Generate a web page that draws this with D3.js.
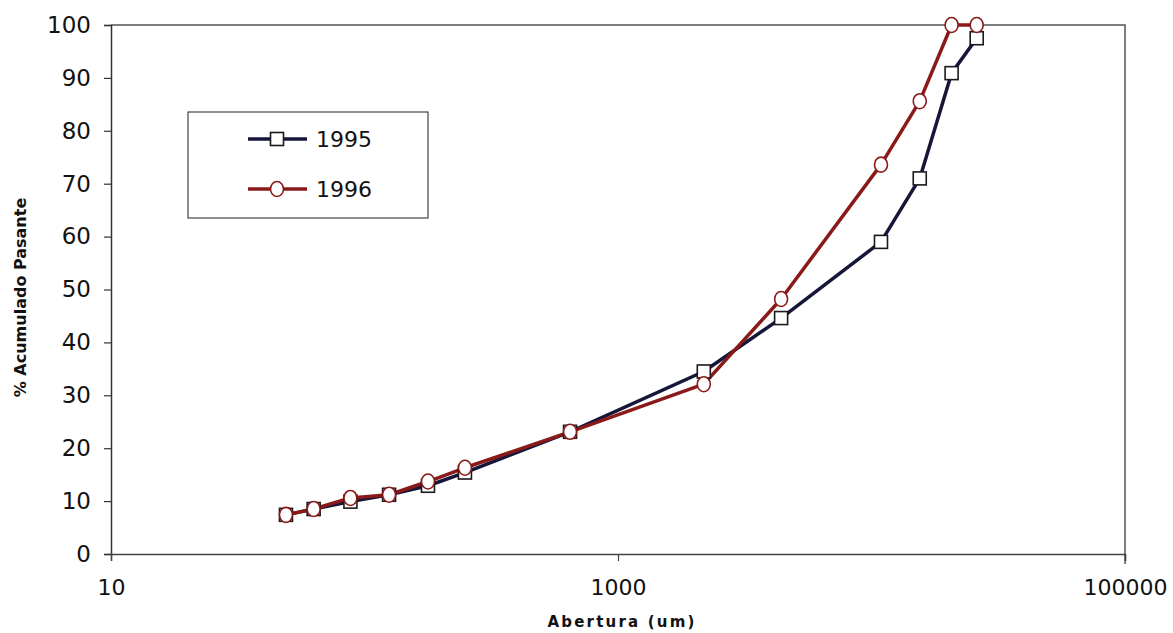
<!DOCTYPE html>
<html>
<head>
<meta charset="utf-8">
<script src="https://cdn.jsdelivr.net/npm/d3@7"></script>
<style>
  html, body { margin: 0; padding: 0; background: #fff; }
  svg { display: block; }
</style>
</head>
<body>
<svg id="chart" width="1173" height="633"></svg>
<script>
// Sieve openings (um) and cumulative percent passing per year
const aberturas = [49, 63, 88, 125, 178, 249, 647, 2180, 4400, 10900, 15500, 20700, 26000];
const pasante1995 = [7.4, 8.5, 9.9, 11.2, 12.9, 15.4, 23.1, 34.5, 44.6, 59.0, 71.0, 90.9, 97.5];
const pasante1996 = [7.4, 8.5, 10.6, 11.2, 13.7, 16.3, 23.1, 32.1, 48.2, 73.6, 85.6, 100, 100];
const seriesNames = ["1995", "1996"];
const xTickValues = [10, 1000, 100000];
const yTickValues = [0, 10, 20, 30, 40, 50, 60, 70, 80, 90, 100];

const svg = d3.select("#chart");
const margin = { left: 111, right: 1125, top: 25, bottom: 554 };

const x = d3.scaleLog().domain([10, 100000]).range([margin.left, margin.right]);
const y = d3.scaleLinear().domain([0, 100]).range([margin.bottom, margin.top]);

const tickFont = "'DejaVu Sans', Verdana, sans-serif";

// Plot frame (top and right edges)
svg.append("path")
  .attr("d", `M${margin.left},${margin.top}H${margin.right}V${margin.bottom + 10}`)
  .attr("fill", "none").attr("stroke", "#555").attr("stroke-width", 1.5);

// Y axis
const yAxis = svg.append("g")
  .attr("transform", `translate(${margin.left},0)`)
  .call(d3.axisLeft(y).tickValues(yTickValues).tickSize(7).tickPadding(13));
yAxis.select(".domain").attr("stroke", "#333").attr("stroke-width", 1.5);
yAxis.selectAll(".tick line").attr("stroke", "#333").attr("stroke-width", 1.2);
yAxis.selectAll("text")
  .attr("font-family", tickFont).attr("font-size", 23).attr("fill", "#111");

// X axis (log, labelled every two decades)
const xAxis = svg.append("g")
  .attr("transform", `translate(0,${margin.bottom})`)
  .call(d3.axisBottom(x).tickValues(xTickValues).tickFormat(d3.format("d")).tickSize(7).tickPadding(18));
xAxis.select(".domain").attr("stroke", "#444").attr("stroke-width", 1.5);
xAxis.selectAll(".tick line").attr("stroke", "#444").attr("stroke-width", 1.2);
xAxis.selectAll("text")
  .attr("font-family", tickFont).attr("font-size", 22).attr("fill", "#111");

// Axis titles
svg.append("text")
  .attr("x", (margin.left + margin.right) / 2 + 4).attr("y", 627)
  .attr("text-anchor", "middle")
  .attr("font-family", tickFont)
  .attr("font-weight", "bold").attr("font-size", 15).attr("letter-spacing", 2.2)
  .attr("fill", "#111")
  .text("Abertura (um)");

svg.append("text")
  .attr("transform", `translate(26,${(margin.top + margin.bottom) / 2 + 8}) rotate(-90)`)
  .attr("text-anchor", "middle")
  .attr("font-family", tickFont)
  .attr("font-weight", "bold").attr("font-size", 16)
  .attr("fill", "#111")
  .text("% Acumulado Pasante");

const colors = { "1995": "#15163a", "1996": "#8a1a1a" };
const data = {
  "1995": aberturas.map((a, i) => ({ a, v: pasante1995[i] })),
  "1996": aberturas.map((a, i) => ({ a, v: pasante1996[i] }))
};

const line = d3.line().x(d => x(d.a)).y(d => y(d.v));

function drawMarker(g, name, cx, cy) {
  if (name === "1995") {
    g.append("rect")
      .attr("x", cx - 6.5).attr("y", cy - 6.5).attr("width", 13).attr("height", 13)
      .attr("fill", "#fff").attr("stroke", "#1a1a1a").attr("stroke-width", 1.6);
  } else {
    g.append("ellipse")
      .attr("cx", cx).attr("cy", cy).attr("rx", 6.5).attr("ry", 7.5)
      .attr("fill", "#fff").attr("stroke", colors["1996"]).attr("stroke-width", 1.6);
  }
}

seriesNames.forEach(name => {
  svg.append("path")
    .datum(data[name])
    .attr("d", line)
    .attr("fill", "none")
    .attr("stroke", colors[name])
    .attr("stroke-width", 3.5)
    .attr("stroke-linejoin", "round");
});
seriesNames.forEach(name => {
  const g = svg.append("g");
  data[name].forEach(d => drawMarker(g, name, x(d.a), y(d.v)));
});

// Legend
const legend = svg.append("g");
legend.append("rect")
  .attr("x", 188).attr("y", 112).attr("width", 240).attr("height", 106)
  .attr("fill", "#fff").attr("stroke", "#444").attr("stroke-width", 1.2);
seriesNames.forEach((name, i) => {
  const ly = 139 + i * 50;
  legend.append("line")
    .attr("x1", 248).attr("x2", 307).attr("y1", ly).attr("y2", ly)
    .attr("stroke", colors[name]).attr("stroke-width", 3.5);
  drawMarker(legend, name, 277, ly);
  legend.append("text")
    .attr("x", 316).attr("y", ly + 8)
    .attr("font-family", tickFont).attr("font-size", 22).attr("fill", "#111")
    .text(name);
});
</script>
</body>
</html>
